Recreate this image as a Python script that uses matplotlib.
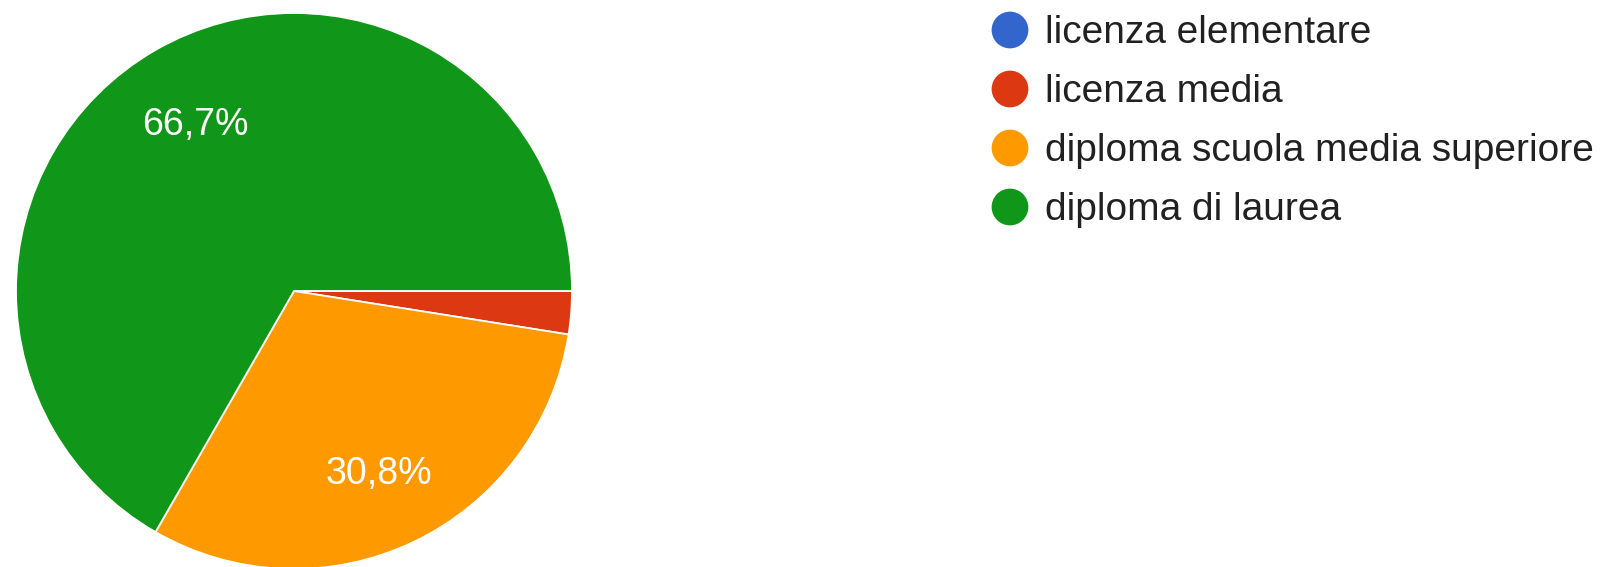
import matplotlib
matplotlib.use("Agg")
import matplotlib.pyplot as plt

plt.rcParams['font.family'] = ['Liberation Sans', 'DejaVu Sans']

# data
categories = ['licenza elementare', 'licenza media',
              'diploma scuola media superiore', 'diploma di laurea']
shares = [0.0, 2.5, 30.8, 66.7]
colors = ['#3366cc', '#dc3912', '#ff9900', '#109618']

W, H = 1611, 567
fig = plt.figure(figsize=(W / 100, H / 100), dpi=100)

# pie centre and radius in pixels
cx, cy, r = 294, 291, 278
ax = fig.add_axes([(cx - r) / W, (H - cy - r) / H, 2 * r / W, 2 * r / H])


def fmt(p):
    # only label slices big enough, Italian decimal comma
    return ('%.1f%%' % p).replace('.', ',') if p >= 5 else ''


wedges, texts, autotexts = ax.pie(shares, colors=colors, startangle=0,
                                  counterclock=False, autopct=fmt,
                                  pctdistance=0.71,
                                  wedgeprops=dict(edgecolor='white', linewidth=1.3),
                                  textprops=dict(color='white', fontsize=27))
# put the digits' middle (not the bbox middle) on the label point
for t in autotexts:
    x, y = t.get_position()
    t.set_va('baseline')
    t.set_position((x, y - 0.052))
ax.set_xlim(-1, 1)
ax.set_ylim(-1, 1)
ax.set_aspect('equal')

# legend drawn on an overlay in pixel units
lg = fig.add_axes([0, 0, 1, 1])
lg.set_xlim(0, W)
lg.set_ylim(H, 0)
lg.axis('off')
lg.patch.set_alpha(0)
y0, step = 30, 59
for i, (name, c) in enumerate(zip(categories, colors)):
    y = y0 + i * step
    lg.scatter([1010], [y], s=700, color=c, edgecolors='none')
    lg.text(1045, y + 13, name, fontsize=28, color='#212121',
            ha='left', va='baseline')

fig.savefig('out.png', dpi=100, facecolor='white')
